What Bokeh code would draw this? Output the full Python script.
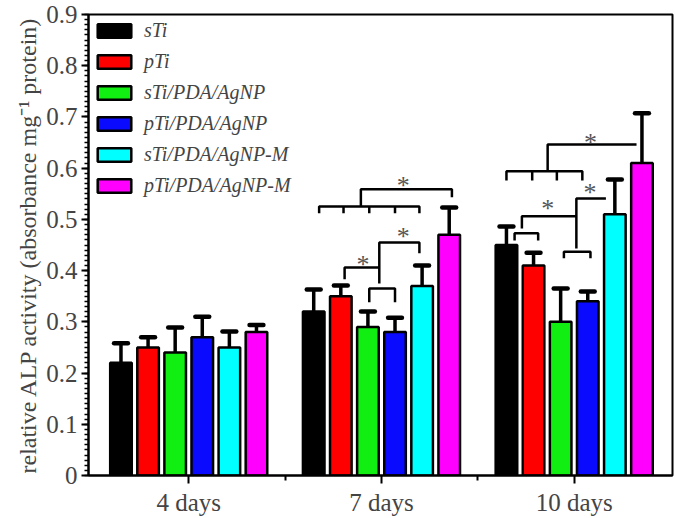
from bokeh.plotting import figure
from bokeh.models import Range1d, FixedTicker, CustomJSTickFormatter, Legend, LegendItem
from bokeh.core.properties import value
from bokeh.embed import file_html
from bokeh.resources import INLINE

# ---- data ----
days = ["4 days", "7 days", "10 days"]
group_pos = [1, 2, 3]
series = ["sTi", "pTi", "sTi/PDA/AgNP", "pTi/PDA/AgNP", "sTi/PDA/AgNP-M", "pTi/PDA/AgNP-M"]
colors = ["#000000", "#ff0000", "#11ee11", "#0a0aff", "#00ffff", "#ff00ff"]
means = {
    "sTi":            [0.22, 0.32, 0.45],
    "pTi":            [0.25, 0.35, 0.41],
    "sTi/PDA/AgNP":   [0.24, 0.29, 0.30],
    "pTi/PDA/AgNP":   [0.27, 0.28, 0.34],
    "sTi/PDA/AgNP-M": [0.25, 0.37, 0.51],
    "pTi/PDA/AgNP-M": [0.28, 0.47, 0.61],
}
errors = {
    "sTi":            [0.038, 0.043, 0.036],
    "pTi":            [0.020, 0.021, 0.025],
    "sTi/PDA/AgNP":   [0.049, 0.030, 0.065],
    "pTi/PDA/AgNP":   [0.040, 0.028, 0.019],
    "sTi/PDA/AgNP-M": [0.031, 0.040, 0.068],
    "pTi/PDA/AgNP-M": [0.014, 0.053, 0.097],
}
y_ticks = [0, 0.1, 0.2, 0.3, 0.4, 0.5, 0.6, 0.7, 0.8, 0.9]

# significance brackets: (group index, polyline of (bar position, y))
brackets = [
    (1, [(0.2, 0.512), (0.2, 0.525), (3.9, 0.525), (3.9, 0.512)]),
    (1, [(1.1, 0.525), (1.1, 0.512)]),
    (1, [(2.05, 0.525), (2.05, 0.512)]),
    (1, [(3.0, 0.525), (3.0, 0.512)]),
    (1, [(1.74, 0.525), (1.74, 0.559), (5.1, 0.559), (5.1, 0.543)]),
    (1, [(1.14, 0.383), (1.14, 0.406), (2.42, 0.406)]),
    (1, [(2.42, 0.375), (2.42, 0.455), (3.9, 0.455), (3.9, 0.434)]),
    (1, [(2.05, 0.338), (2.05, 0.365), (3.0, 0.365), (3.0, 0.338)]),
    (2, [(0.0, 0.576), (0.0, 0.594), (2.8, 0.594), (2.8, 0.576)]),
    (2, [(0.95, 0.594), (0.95, 0.576)]),
    (2, [(1.86, 0.594), (1.86, 0.576)]),
    (2, [(1.52, 0.594), (1.52, 0.646), (4.8, 0.646)]),
    (2, [(2.58, 0.443), (2.58, 0.541), (3.67, 0.541)]),
    (2, [(2.12, 0.424), (2.12, 0.437), (3.1, 0.437), (3.1, 0.424)]),
    (2, [(0.57, 0.482), (0.57, 0.506), (2.58, 0.506)]),
    (2, [(0.3, 0.459), (0.3, 0.473), (1.17, 0.473), (1.17, 0.459)]),
]
stars = [(1, 3.3, 0.582), (1, 1.82, 0.428), (1, 3.3, 0.482),
         (2, 3.1, 0.666), (2, 1.52, 0.537), (2, 3.08, 0.568)]

PITCH = 0.1406
BAR_W = 0.112
CAP_HALF = 0.036
SERIF = "Liberation Serif"


def xpos(g, k):
    return group_pos[g] + (k - 2.5) * PITCH


p = figure(width=663, height=518, x_range=Range1d(0.48, 3.51), y_range=Range1d(0, 0.9),
           output_backend="svg", toolbar_location=None,
           min_border_left=10, min_border_right=3, min_border_top=14, min_border_bottom=4)
p.margin = (0, 0, 0, 12)
p.xgrid.visible = False
p.ygrid.visible = False
p.outline_line_color = "black"
p.outline_line_width = 2
p.outline_line_alpha = 1
p.background_fill_color = "white"

items = []
for i, name in enumerate(series):
    xs = [xpos(g, i) for g in range(3)]
    tops = means[name]
    errs = errors[name]
    r = p.vbar(x=xs, top=tops, bottom=0, width=BAR_W, fill_color=colors[i],
               line_color="black", line_width=2.5)
    etop = [t + e for t, e in zip(tops, errs)]
    p.segment(x0=xs, y0=tops, x1=xs, y1=etop, line_color="black", line_width=3.5)
    p.segment(x0=[x - CAP_HALF for x in xs], y0=etop, x1=[x + CAP_HALF for x in xs], y1=etop,
              line_color="black", line_width=4.5, line_cap="round")
    items.append(LegendItem(label=name, renderers=[r]))

bx = [[xpos(g, k) for k, _ in pts] for g, pts in brackets]
by = [[y for _, y in pts] for g, pts in brackets]
p.multi_line(xs=bx, ys=by, line_color="black", line_width=2.5)

p.text(x=[xpos(g, k) for g, k, _ in stars], y=[y for _, _, y in stars], text=["*"] * len(stars),
       text_font=value(SERIF), text_font_size=value("26px"), text_align="center",
       text_baseline="alphabetic", y_offset=8, text_color="#555555")

legend = Legend(items=items, location="top_left")
legend.label_text_font = SERIF
legend.label_text_font_style = "italic"
legend.label_text_font_size = "20px"
legend.glyph_width = 42
legend.glyph_height = 17
legend.label_height = 17
legend.spacing = 8
legend.padding = 5
legend.margin = 0
legend.label_standoff = 9
legend.background_fill_alpha = 0
legend.border_line_alpha = 0
p.add_layout(legend)

# y axis
ya = p.yaxis[0]
ya.ticker = FixedTicker(ticks=y_ticks, minor_ticks=[i * 0.01 for i in range(91)])
ya.formatter = CustomJSTickFormatter(code="return tick == 0 ? '0' : tick.toFixed(1);")
ya.axis_line_width = 2
ya.major_tick_line_width = 2
ya.minor_tick_line_width = 1.5
ya.major_tick_in = 0
ya.major_tick_out = 7
ya.minor_tick_in = 0
ya.minor_tick_out = 4
ya.major_label_text_font = SERIF
ya.major_label_text_font_size = "25px"
ya.major_label_standoff = 4
ya.axis_label = "relative ALP activity (absorbance mg\u207b\u00b9 protein)"
ya.axis_label_text_font = SERIF
ya.axis_label_text_font_size = "24px"
ya.axis_label_text_font_style = "normal"
ya.axis_label_standoff = 2

# x axis
xa = p.xaxis[0]
xa.ticker = FixedTicker(ticks=group_pos, minor_ticks=[1.5, 2.5])
xa.major_label_overrides = {g: d for g, d in zip(group_pos, days)}
xa.axis_line_width = 2
xa.major_tick_line_width = 2
xa.minor_tick_line_width = 2
xa.major_tick_in = 0
xa.major_tick_out = 8
xa.minor_tick_in = 0
xa.minor_tick_out = 5
xa.major_label_text_font = SERIF
xa.major_label_text_font_size = "25px"
xa.major_label_standoff = 5

open("out.html", "w").write(file_html(p, INLINE))
